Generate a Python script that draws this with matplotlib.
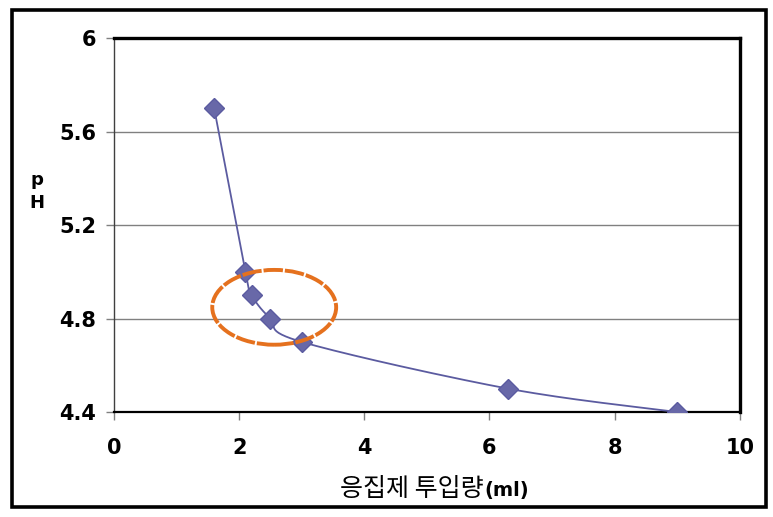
import numpy as np
import matplotlib.pyplot as plt
from matplotlib.patches import Ellipse, Rectangle

dose = [1.6, 2.1, 2.2, 2.5, 3.0, 6.3, 9.0]
ph = [5.7, 5.0, 4.9, 4.8, 4.7, 4.5, 4.4]
x_ticks = [0, 2, 4, 6, 8, 10]
y_ticks = [4.4, 4.8, 5.2, 5.6, 6.0]
y_labels = ['4.4', '4.8', '5.2', '5.6', '6']


def catmull_rom(x, y, n=30):
    # smoothed line like the spreadsheet one
    pts = np.column_stack([x, y]).astype(float)
    pts = np.vstack([pts[0], pts, pts[-1]])
    out = []
    t = np.linspace(0, 1, n)[:, None]
    for i in range(1, len(pts) - 2):
        p0, p1, p2, p3 = pts[i - 1], pts[i], pts[i + 1], pts[i + 2]
        seg = 0.5 * ((2 * p1) + (-p0 + p2) * t
                     + (2 * p0 - 5 * p1 + 4 * p2 - p3) * t ** 2
                     + (-p0 + 3 * p1 - 3 * p2 + p3) * t ** 3)
        out.append(seg)
    out = np.vstack(out)
    return out[:, 0], out[:, 1]


def main():
    fig = plt.figure(figsize=(7.73, 5.17), dpi=100)
    ax = fig.add_axes([0.1475, 0.203, 0.8095, 0.7235])

    # scale y so the curve shape follows pixel space
    sx, sy = 62.6, 233.75
    cx, cy = catmull_rom(np.array(dose) * sx, np.array(ph) * sy)
    ax.plot(cx / sx, cy / sy, color='#5b5ba0', lw=1.3, zorder=3)
    ax.plot(dose, ph, 'D', color='#6868a8', ms=10, mec='#5b5ba0', zorder=4)

    ax.add_patch(Ellipse((2.56, 4.848), 1.98, 0.32, fill=False,
                         ec='#e5711e', lw=2.8, ls=(0, (5, 0.5)), zorder=5))

    ax.set_xlim(0, 10)
    ax.set_ylim(4.4, 6.0)
    ax.set_xticks(x_ticks)
    ax.set_yticks(y_ticks)
    ax.set_yticklabels(y_labels)
    for y in y_ticks[1:-1]:
        ax.axhline(y, color='#808080', lw=1, zorder=1)

    ax.tick_params(axis='both', direction='out', length=6, width=1,
                   color='#808080', labelsize=15)
    ax.tick_params(axis='x', pad=13)
    ax.tick_params(axis='y', pad=7)
    for lab in ax.get_xticklabels() + ax.get_yticklabels():
        lab.set_fontweight('bold')

    ax.spines['left'].set_linewidth(1)
    ax.spines['left'].set_color('#404040')
    ax.spines['bottom'].set_linewidth(1.6)
    ax.spines['top'].set_linewidth(2.4)
    ax.spines['right'].set_linewidth(2.4)

    fig.text(0.048, 0.63, 'p\nH', ha='center', va='center', fontsize=13,
             fontweight='bold', linespacing=1.35)
    fig.text(0.626, 0.041, '응집제 투입량', ha='right', va='baseline', fontsize=18,
             family=['Noto Sans CJK KR', 'DejaVu Sans'])
    fig.text(0.626, 0.041, '(ml)', ha='left', va='baseline', fontsize=14,
             fontweight='bold')

    fig.patches.append(Rectangle((0.0155, 0.0193), 0.975, 0.961, fill=False,
                                 lw=2.6, ec='black', transform=fig.transFigure))

    fig.savefig('out.png', dpi=100)


if __name__ == "__main__":
    main()
